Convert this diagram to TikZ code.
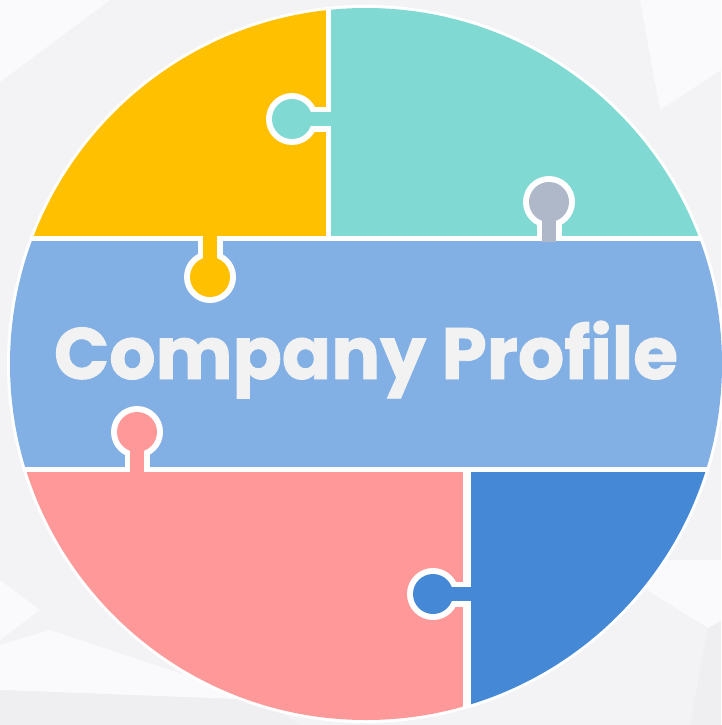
\documentclass[tikz,border=0pt]{standalone}
\usepackage{fontspec}
\newfontfamily\popfont{Poppins}[BoldFeatures={FakeBold=1.2}]
\definecolor{bgA}{HTML}{F3F3F5}
\definecolor{bgB}{HTML}{FAFAFC}
\definecolor{bgC}{HTML}{EFEFF2}
\definecolor{yel}{HTML}{FFC000}
\definecolor{tea}{HTML}{80DAD3}
\definecolor{band}{HTML}{82B0E4}
\definecolor{pnk}{HTML}{FF9999}
\definecolor{dbl}{HTML}{4589D6}
\definecolor{gry}{HTML}{AEB8C9}
\definecolor{txt}{HTML}{F2F2F2}
\tikzset{
  knobrim/.style={fill=white},
  title/.style={font=\popfont\bfseries, text=txt, anchor=base, inner sep=0pt}
}
\begin{document}
\begin{tikzpicture}[x=1pt,y=-1pt]
\useasboundingbox (0,0) rectangle (721,725);
% background
\fill[bgA] (0,0) rectangle (721,725);
\fill[bgB] (0,0) -- (110,0) -- (0,82) -- cycle;
\fill[bgB] (640,0) -- (721,0) -- (721,70) -- (660,110) -- cycle;
\fill[bgB] (0,580) -- (40,610) -- (0,640) -- cycle;
\fill[bgB] (0,645) -- (50,630) -- (260,700) -- (0,690) -- cycle;
\fill[bgC] (0,690) -- (260,700) -- (300,725) -- (0,725) -- cycle;
\fill[bgB] (610,560) -- (650,592) -- (708,628) -- (721,620) -- (721,560) -- cycle;
\fill[bgC] (708,628) -- (721,622) -- (721,725) -- (690,725) -- cycle;
% white ring
\fill[white] (366,364) circle (359);
% pieces
\begin{scope}
\clip (366,364) circle (356);
\fill[yel] (0,0) rectangle (325.5,235.5);
\fill[tea] (331,0) rectangle (730,235.5);
\fill[band] (0,241) rectangle (730,466.5);
\fill[pnk] (0,471.5) rectangle (463,730);
\fill[dbl] (471,471.5) rectangle (730,730);
\end{scope}
% knob 1: teal into yellow
\fill[knobrim] (292,119) circle (26);
\fill[knobrim] (292,106.5) rectangle (325.5,131.5);
\fill[tea] (292,119) circle (20);
\fill[tea] (292,112) rectangle (332,126);
% knob 2: grey into teal
\fill[knobrim] (549,202) circle (26);
\fill[knobrim] (536.5,202) rectangle (561.5,235.5);
\fill[gry] (549,202) circle (20);
\fill[gry] (542,202) rectangle (556,242);
% knob 3: yellow into band
\fill[knobrim] (210,277) circle (26);
\fill[knobrim] (197.5,241) rectangle (222.5,277);
\fill[yel] (210,277) circle (20);
\fill[yel] (203,234.5) rectangle (217,277);
% knob 4: pink into band
\fill[knobrim] (137,432) circle (26);
\fill[knobrim] (124.5,432) rectangle (149.5,466.5);
\fill[pnk] (137,432) circle (20);
\fill[pnk] (130,432) rectangle (144,472.5);
% knob 5: dark blue into pink
\fill[knobrim] (433,594) circle (26);
\fill[knobrim] (433,581.5) rectangle (463,606.5);
\fill[dbl] (433,594) circle (20);
\fill[dbl] (433,587) rectangle (472,601);
% title
\node[title] (t) at (366,379) {\resizebox{624pt}{!}{Company Profile}};
\end{tikzpicture}
\end{document}
